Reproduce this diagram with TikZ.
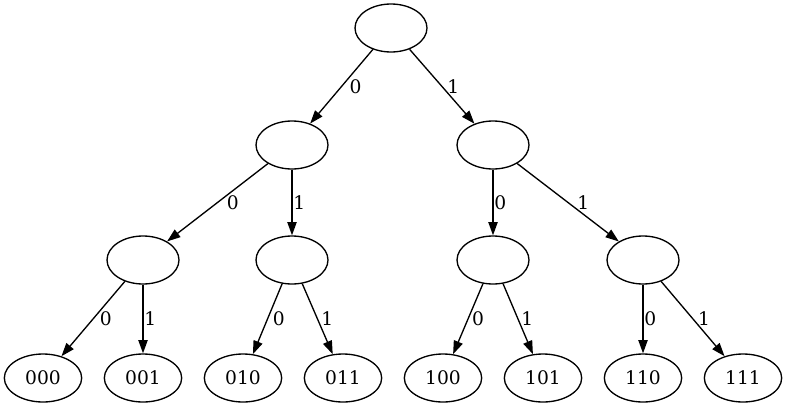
\documentclass[tikz,border=0pt]{standalone}
\usepackage{fontspec}
\setmainfont{DejaVu Serif}
\usepackage{tikz}
\usetikzlibrary{arrows.meta,shapes.geometric}

\begin{document}
\begin{tikzpicture}[x=0.75pt,y=-0.75pt,
	inner/.style={ellipse,draw,line width=1pt,minimum width=54pt,minimum height=36pt,inner sep=0pt},
	leaf/.style={inner,minimum width=58pt},
	edge/.style={line width=1pt,-{Triangle[length=10pt,width=7pt]}},
	lbl/.style={right,inner sep=0.5pt},
	font=\fontsize{14}{16}\selectfont]
\useasboundingbox (0,0) rectangle (787,407);
\node [inner] (r) at (391,28) {};
\node [inner] (a) at (292,145) {};
\node [inner] (b) at (493,145) {};
\node [inner] (aa) at (143,260) {};
\node [inner] (ab) at (292,260) {};
\node [inner] (ba) at (493,260) {};
\node [inner] (bb) at (643,260) {};
\node [leaf] (l000) at (43,378) {000};
\node [leaf] (l001) at (143,378) {001};
\node [leaf] (l010) at (243,378) {010};
\node [leaf] (l011) at (343,378) {011};
\node [leaf] (l100) at (443,378) {100};
\node [leaf] (l101) at (543,378) {101};
\node [leaf] (l110) at (643,378) {110};
\node [leaf] (l111) at (743,378) {111};

\draw [edge] (r) -- node [lbl,xshift=5pt] (e0) {0} (a);
\draw [edge] (r) -- node [lbl,xshift=3pt] (e1) {1} (b);
\draw [edge] (a) -- node [lbl,xshift=6pt] (e00) {0} (aa);
\draw [edge] (a) -- node [lbl] (e01) {1} (ab);
\draw [edge] (b) -- node [lbl] (e10) {0} (ba);
\draw [edge] (b) -- node [lbl,xshift=6pt] (e11) {1} (bb);
\draw [edge] (aa) -- node [lbl,xshift=4pt] (e000) {0} (l000);
\draw [edge] (aa) -- node [lbl] (e001) {1} (l001);
\draw [edge] (ab) -- node [lbl,xshift=3pt] (e010) {0} (l010);
\draw [edge] (ab) -- node [lbl,xshift=2pt] (e011) {1} (l011);
\draw [edge] (ba) -- node [lbl,xshift=2pt] (e100) {0} (l100);
\draw [edge] (ba) -- node [lbl,xshift=1.5pt] (e101) {1} (l101);
\draw [edge] (bb) -- node [lbl] (e110) {0} (l110);
\draw [edge] (bb) -- node [lbl,xshift=3pt] (e111) {1} (l111);
\end{tikzpicture}
\end{document}
